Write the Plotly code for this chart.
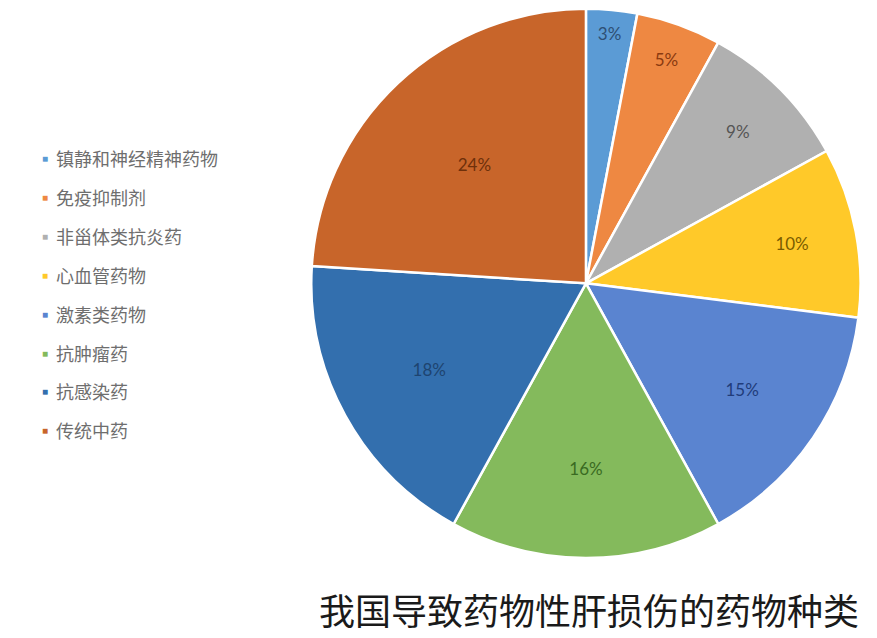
import plotly.graph_objects as go

# data
labels = ['镇静和神经精神药物', '免疫抑制剂', '非甾体类抗炎药', '心血管药物',
          '激素类药物', '抗肿瘤药', '抗感染药', '传统中药']
values = [3, 5, 9, 10, 15, 16, 18, 24]
colors = ['#5B9BD5', '#EE8842', '#B0B0B0', '#FFC929',
          '#5A84D0', '#84BA5C', '#336FAE', '#C8652A']
text_colors = ['#2E4F73', '#8A3A10', '#555555', '#7A5C00',
               '#213C7A', '#3A6A22', '#1E4470', '#6E300A']
title = '我国导致药物性肝损伤的药物种类'

fig = go.Figure()
fig.add_trace(go.Pie(
    labels=labels, values=values, sort=False, direction='clockwise', rotation=0,
    marker=dict(colors=colors, line=dict(color='#FFFFFF', width=2.5)),
    texttemplate='%{value}%', textposition='inside', insidetextorientation='horizontal',
    insidetextfont=dict(family='Lato, DejaVu Sans', size=17, color=text_colors),
    domain=dict(x=[0.345, 0.973], y=[0.138, 0.999]),
    showlegend=False,
))

# legend drawn as annotations
for i, (lab, col) in enumerate(zip(labels, colors)):
    y = 0.765 - i * 0.061
    fig.add_annotation(x=0.036, y=y, xref='paper', yref='paper', text='■',
                       showarrow=False, xanchor='left', yanchor='middle',
                       font=dict(size=10, color=col))
    fig.add_annotation(x=0.052, y=y, xref='paper', yref='paper', text=lab,
                       showarrow=False, xanchor='left', yanchor='middle',
                       font=dict(family='Noto Sans CJK SC', size=18, color='#6E6E6E'))

fig.add_annotation(x=0.663, y=0.058, xref='paper', yref='paper', text=title,
                   showarrow=False, xanchor='center', yanchor='middle',
                   font=dict(family='Noto Sans CJK SC', size=36, color='#1A1A1A'))

fig.update_layout(width=877, height=638, margin=dict(l=0, r=0, t=0, b=0),
                  paper_bgcolor='white', plot_bgcolor='white')
fig.write_html('out.html')
